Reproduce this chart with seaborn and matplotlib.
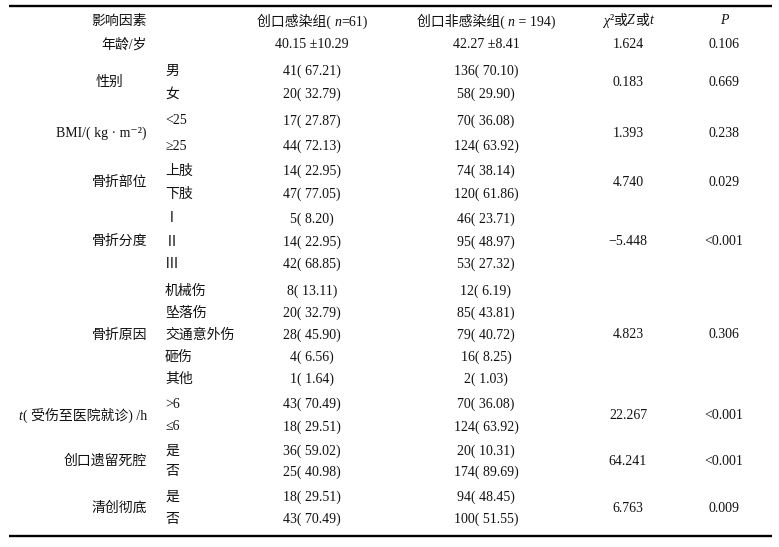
import matplotlib
matplotlib.use("Agg")
import matplotlib.pyplot as plt
from matplotlib.offsetbox import TextArea, HPacker, AnnotationBbox
import seaborn as sns

# ---------------- data ----------------
# header pieces: (text, italic)
headers = [
    [("影响因素", False)],
    [("创口感染组( ", False), ("n", True), ("=61)", False)],
    [("创口非感染组( ", False), ("n", True), (" = 194)", False)],
    [("χ", True), ("²", False), ("或", False), ("Z", True), ("或", False), ("t", True)],
    [("P", True)],
]
factors = [
    [("年龄/岁", False)],
    [("性别", False)],
    [("BMI/( kg · m⁻²)", False)],
    [("骨折部位", False)],
    [("骨折分度", False)],
    [("骨折原因", False)],
    [("t", True), ("( 受伤至医院就诊) /h", False)],
    [("创口遗留死腔", False)],
    [("清创彻底", False)],
]
levels = [[""], ["男", "女"], ["<25", "≥25"], ["上肢", "下肢"], ["Ⅰ", "Ⅱ", "Ⅲ"],
          ["机械伤", "坠落伤", "交通意外伤", "砸伤", "其他"], [">6", "≤6"], ["是", "否"], ["是", "否"]]
age_mean = [40.15, 42.27]
age_sd = [10.29, 8.41]
infected_n = [[41, 20], [17, 44], [14, 47], [5, 14, 42], [8, 20, 28, 4, 1], [43, 18], [36, 25], [18, 43]]
infected_pct = [[67.21, 32.79], [27.87, 72.13], [22.95, 77.05], [8.20, 22.95, 68.85],
                [13.11, 32.79, 45.90, 6.56, 1.64], [70.49, 29.51], [59.02, 40.98], [29.51, 70.49]]
noninf_n = [[136, 58], [70, 124], [74, 120], [46, 95, 53], [12, 85, 79, 16, 2], [70, 124], [20, 174], [94, 100]]
noninf_pct = [[70.10, 29.90], [36.08, 63.92], [38.14, 61.86], [23.71, 48.97, 27.32],
              [6.19, 43.81, 40.72, 8.25, 1.03], [36.08, 63.92], [10.31, 89.69], [48.45, 51.55]]
stat = ["1.624", "0.183", "1.393", "4.740", "−5.448", "4.823", "22.267", "64.241", "6.763"]
pval = ["0.106", "0.669", "0.238", "0.029", "<0.001", "0.306", "<0.001", "<0.001", "0.009"]

# ---------------- style ----------------
sns.set_theme(style="white")
plt.rcParams["font.family"] = ["Liberation Serif", "Noto Sans CJK SC", "DejaVu Sans"]
FS = 10
COL = "#111111"

fig = plt.figure(figsize=(7.79, 5.47), dpi=100)
ax = fig.add_axes([0, 0, 1, 1])
ax.set_xlim(0, 779)
ax.set_ylim(547, 0)
ax.axis("off")


def rich(x, y, pieces, halign="center"):
    areas = [TextArea(t, textprops=dict(fontsize=FS, color=COL,
                                        fontstyle="italic" if it else "normal"))
             for t, it in pieces]
    box = HPacker(children=areas, align="baseline", pad=0, sep=0)
    bx = {"left": 0.0, "center": 0.5, "right": 1.0}[halign]
    ab = AnnotationBbox(box, (x, y), xycoords="data", box_alignment=(bx, 0.5),
                        frameon=False, pad=0)
    ax.add_artist(ab)


def txt(x, y, s, ha="center"):
    ax.text(x, y, s, ha=ha, va="center", fontsize=FS, color=COL)


# layout (pixel positions)
x_lab, x_lvl, x_c1, x_c2, x_c3, x_c4 = 147, 165, 312, 486, 628, 724
header_y = 21
row_y = [45, 71, 94, 121, 146, 171, 194, 219, 242, 264, 291, 313, 335, 357, 379, 404, 427, 451, 472, 497, 519]

ax.hlines([5.5, 536], 9, 772, color="black", lw=1.7)

hx = [x_lab, x_c1, x_c2, x_c3, x_c4]
for i, h in enumerate(headers):
    rich(hx[i], header_y, h, "right" if i == 0 else "center")

k = 0
for gi, (fac, lv) in enumerate(zip(factors, levels)):
    ys = row_y[k:k + len(lv)]
    k += len(lv)
    ymid = sum(ys) / len(ys)
    if gi == 1:
        rich(110, ymid, fac, "center")
    else:
        rich(x_lab, ymid, fac, "right")
    if gi == 0:
        txt(x_c1, ys[0], f"{age_mean[0]:.2f} ±{age_sd[0]:.2f}")
        txt(x_c2, ys[0], f"{age_mean[1]:.2f} ±{age_sd[1]:.2f}")
    else:
        for j, y in enumerate(ys):
            txt(x_lvl, y, lv[j], ha="left")
            txt(x_c1, y, f"{infected_n[gi-1][j]}( {infected_pct[gi-1][j]:.2f})")
            txt(x_c2, y, f"{noninf_n[gi-1][j]}( {noninf_pct[gi-1][j]:.2f})")
    txt(x_c3, ymid, stat[gi])
    txt(x_c4, ymid, pval[gi])

fig.savefig("out.png", dpi=100, facecolor="white")
